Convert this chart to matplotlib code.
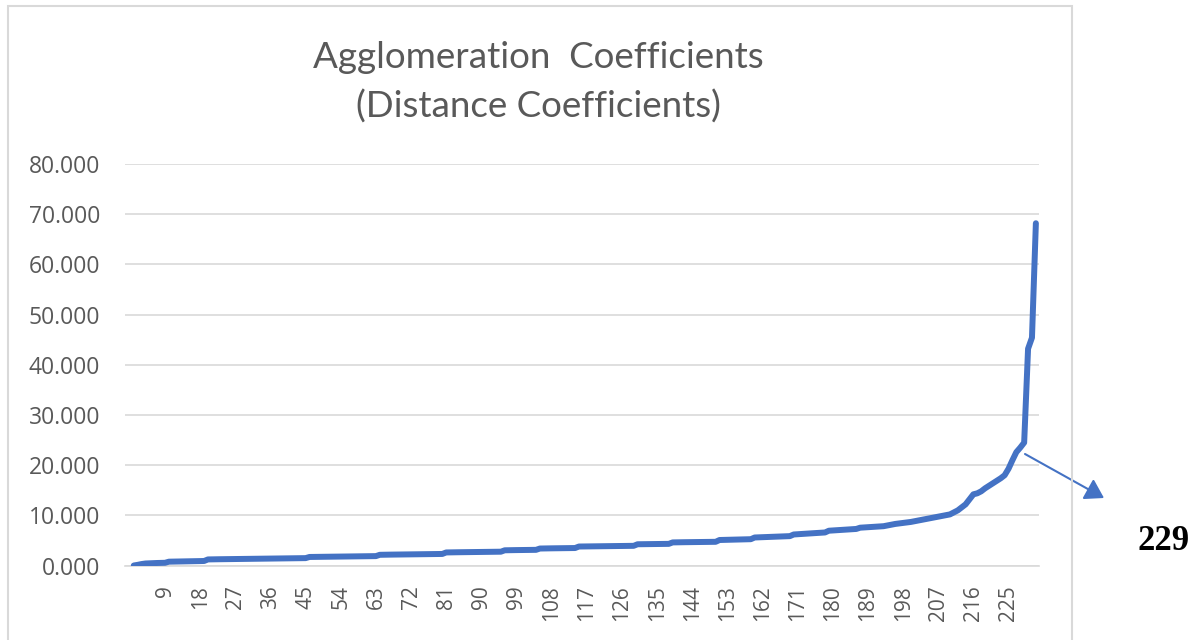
import numpy as np
import matplotlib
matplotlib.use("Agg")
import matplotlib.pyplot as plt
from matplotlib.patches import Rectangle

# data (stage 1..232)
coef = [
    0.020, 0.150, 0.310, 0.420, 0.460, 0.490, 0.520, 0.540, 0.560, 0.780,
    0.800, 0.810, 0.830, 0.840, 0.850, 0.870, 0.880, 0.900, 0.920, 1.230,
    1.250, 1.260, 1.270, 1.280, 1.290, 1.300, 1.310, 1.320, 1.330, 1.340,
    1.350, 1.360, 1.370, 1.380, 1.390, 1.400, 1.410, 1.420, 1.430, 1.440,
    1.450, 1.460, 1.470, 1.480, 1.490, 1.720, 1.730, 1.740, 1.750, 1.760,
    1.770, 1.780, 1.790, 1.800, 1.810, 1.820, 1.830, 1.840, 1.850, 1.860,
    1.870, 1.880, 1.890, 2.150, 2.170, 2.180, 2.190, 2.200, 2.210, 2.220,
    2.230, 2.240, 2.250, 2.260, 2.270, 2.280, 2.290, 2.300, 2.310, 2.320,
    2.620, 2.640, 2.650, 2.660, 2.670, 2.680, 2.690, 2.700, 2.710, 2.720,
    2.730, 2.740, 2.750, 2.760, 2.770, 3.050, 3.070, 3.080, 3.090, 3.100,
    3.110, 3.120, 3.130, 3.140, 3.400, 3.420, 3.430, 3.440, 3.450, 3.460,
    3.470, 3.480, 3.490, 3.500, 3.800, 3.810, 3.820, 3.830, 3.840, 3.850,
    3.860, 3.870, 3.880, 3.890, 3.900, 3.910, 3.920, 3.930, 3.940, 4.250,
    4.260, 4.270, 4.280, 4.290, 4.300, 4.310, 4.320, 4.330, 4.620, 4.640,
    4.650, 4.660, 4.670, 4.680, 4.690, 4.700, 4.710, 4.720, 4.730, 4.740,
    5.100, 5.120, 5.140, 5.160, 5.180, 5.200, 5.220, 5.240, 5.260, 5.600,
    5.630, 5.660, 5.690, 5.720, 5.750, 5.780, 5.810, 5.840, 5.870, 6.200,
    6.250, 6.300, 6.350, 6.400, 6.450, 6.500, 6.550, 6.600, 6.950, 7.000,
    7.050, 7.100, 7.150, 7.200, 7.250, 7.300, 7.550, 7.600, 7.650, 7.700,
    7.750, 7.800, 7.850, 8.000, 8.150, 8.300, 8.400, 8.500, 8.600, 8.700,
    8.850, 9.000, 9.150, 9.300, 9.450, 9.600, 9.750, 9.900, 10.050, 10.200,
    10.600, 11.000, 11.600, 12.200, 13.200, 14.200, 14.400, 14.800, 15.400, 15.900,
    16.400, 16.900, 17.400, 18.000, 19.300, 21.000, 22.600, 23.500, 24.500, 43.200,
    45.400, 68.200,
]
stages = list(range(1, len(coef) + 1))
xtick_vals = list(range(9, 226, 9))
ytick_vals = [0, 10, 20, 30, 40, 50, 60, 70, 80]
title = "Agglomeration  Coefficients\n(Distance Coefficients)"
callout = "229"

blue = "#4472C4"
grey_txt = "#595959"
grid_c = "#d9d9d9"

fig = plt.figure(figsize=(11.99, 6.4), dpi=100)
ax = fig.add_axes([125 / 1199, 1 - 565.6 / 640, 914 / 1199, 401.6 / 640])

ax.plot(stages, coef, color=blue, lw=4.3, solid_capstyle="round", solid_joinstyle="round", zorder=3)

ax.set_xlim(-1.25, 232.8)
ax.set_ylim(0, 80)
ax.set_yticks(ytick_vals)
ax.set_yticklabels([f"{v:.3f}" for v in ytick_vals], fontsize=16.5, color=grey_txt, family="Open Sans")
ax.set_xticks(xtick_vals)
ax.set_xticklabels([str(v) for v in xtick_vals], rotation=90, fontsize=15, color=grey_txt,
                   family="Open Sans", va="top")
ax.tick_params(axis="y", length=0, pad=18)
ax.tick_params(axis="x", length=0, pad=14)
ax.grid(axis="y", color=grid_c, lw=1.2)
ax.set_axisbelow(True)
for s in ["top", "right", "left"]:
    ax.spines[s].set_visible(False)
ax.spines["bottom"].set_color(grid_c)
ax.spines["bottom"].set_linewidth(1.2)

fig.text(538 / 1199, 1 - 82 / 640, title, ha="center", va="center", fontsize=26.5, color=grey_txt,
         family="Lato", linespacing=1.55)

# chart border
fig.patches.append(Rectangle((8 / 1199, -0.01), 1064 / 1199, 1.01 - 6 / 640, transform=fig.transFigure,
                             fill=False, ec=grid_c, lw=1.5))

# arrow + stage label outside the chart
ax.annotate("", xy=(1104, 640 - 498), xycoords="figure pixels",
            xytext=(1025, 640 - 454), textcoords="figure pixels",
            arrowprops=dict(arrowstyle="-|>,head_length=0.4,head_width=0.25", mutation_scale=28,
                            color=blue, lw=1.5, shrinkA=0, shrinkB=0),
            annotation_clip=False)
fig.text(1164 / 1199, 1 - 541 / 640, callout, ha="center", va="center", fontsize=25,
         fontweight="bold", family="Liberation Serif", color="black")

fig.savefig("out.png", dpi=100)
